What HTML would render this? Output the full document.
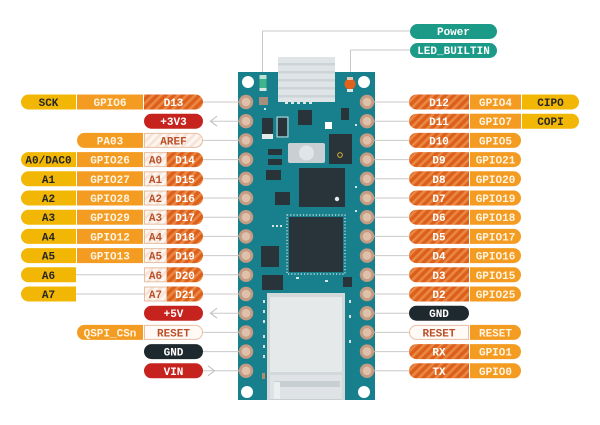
<!DOCTYPE html>
<html><head><meta charset="utf-8"><style>
html,body{margin:0;padding:0;background:#fff;}
svg{display:block;}
text{font-family:"Liberation Mono",monospace;font-weight:bold;font-size:11px;text-anchor:middle;}
.y{fill:#262626}.o{fill:#fff4e2}.w{fill:#ffffff}.r{fill:#b9502a}
</style></head><body>
<svg width="600" height="425" viewBox="0 0 600 425" xmlns="http://www.w3.org/2000/svg">
<defs>
<pattern id="h" patternUnits="userSpaceOnUse" width="6" height="6" patternTransform="rotate(45)">
<rect width="6" height="6" fill="#dc601b"/><rect width="2.6" height="6" fill="#ea8743"/>
</pattern>
<pattern id="hw" patternUnits="userSpaceOnUse" width="6" height="6" patternTransform="rotate(45)">
<rect width="6" height="6" fill="#fdf5ef"/><rect width="2.6" height="6" fill="#f6e3d6"/>
</pattern>
<path id="LY" d="M28.5,-7.5H76V7.5H28.5A7.5,7.5 0 0 1 28.5,-7.5Z"/>
<rect id="LG" x="77" y="-7.5" width="66" height="15"/>
<path id="LD" d="M144,-7.5H195.5A7.5,7.5 0 0 1 195.5,7.5H144Z"/>
<path id="LD2" d="M167,-7.5H195.5A7.5,7.5 0 0 1 195.5,7.5H167Z"/>
<rect id="LA" x="144.5" y="-7" width="22" height="14"/>
<rect id="LB" x="144" y="-7.5" width="59" height="15" rx="7.5"/>
<path id="LP" d="M84.5,-7.5H143V7.5H84.5A7.5,7.5 0 0 1 84.5,-7.5Z"/>
<path id="LW" d="M144.5,-7H195.5A7,7 0 0 1 195.5,7H144.5Z"/>
<path id="RD" d="M416.5,-7.5H469V7.5H416.5A7.5,7.5 0 0 1 416.5,-7.5Z"/>
<path id="RW" d="M416.5,-7H468.5V7H416.5A7,7 0 0 1 416.5,-7Z"/>
<rect id="RG" x="470" y="-7.5" width="51" height="15"/>
<path id="RGR" d="M470,-7.5H513.5A7.5,7.5 0 0 1 513.5,7.5H470Z"/>
<path id="RY" d="M522,-7.5H571.5A7.5,7.5 0 0 1 571.5,7.5H522Z"/>
<rect id="RB" x="409" y="-7.5" width="60" height="15" rx="7.5"/>
<g id="padL"><circle cx="246" cy="0" r="7.2" fill="#c59b83"/><circle cx="246" cy="0" r="4.3" fill="#dfc1ab"/></g>
<g id="padR"><circle cx="367" cy="0" r="7.2" fill="#c59b83"/><circle cx="367" cy="0" r="4.3" fill="#dfc1ab"/></g>
</defs>

<!-- connector lines -->
<g stroke="#c9c9c9" stroke-width="1" fill="none">
<polyline points="410,31 262.5,31 262.5,74"/>
<polyline points="410,50 350.5,50 350.5,78"/>
</g>

<!-- top labels -->
<rect x="410" y="24" width="87" height="15" rx="7.5" fill="#1a9a87"/>
<text x="453.5" y="35" class="w">Power</text>
<rect x="410" y="43" width="87" height="15" rx="7.5" fill="#1a9a87"/>
<text x="453.5" y="54" class="w">LED_BUILTIN</text>

<!-- heatsink -->
<rect x="278" y="57" width="57" height="45" fill="#dfe4e6"/>
<g fill="#cdd4d7"><rect x="278" y="63" width="57" height="2.5"/><rect x="278" y="71" width="57" height="2.5"/><rect x="278" y="79" width="57" height="2.5"/><rect x="278" y="87" width="57" height="2.5"/><rect x="278" y="95" width="57" height="2.5"/></g>

<!-- board -->
<path d="M238,72H278V102H335V72H375V400H238Z" fill="#18808d"/>
<!-- holes -->
<g fill="#fff"><circle cx="248" cy="82" r="6"/><circle cx="364" cy="82" r="6"/><circle cx="247" cy="392" r="6"/><circle cx="364" cy="392" r="6"/></g>
<!-- LEDs -->
<rect x="259.5" y="75" width="7" height="14" rx="2" fill="#3fb38a"/>
<rect x="259.5" y="75" width="7" height="4" fill="#b9e3d3"/>
<rect x="259.5" y="88" width="7" height="3" fill="#d7e8e4"/>
<circle cx="350" cy="84" r="5.5" fill="#e2621c"/>
<rect x="347" y="77" width="6" height="3" fill="#e9c6b0"/>
<rect x="347" y="89" width="6" height="3" fill="#d7e8e4"/>
<!-- small parts -->
<rect x="259" y="97" width="9" height="8" fill="#a88f7d"/>
<g fill="#d8e6e8"><rect x="285" y="101" width="3" height="3"/><rect x="291" y="101" width="3" height="3"/><rect x="297" y="101" width="3" height="3"/><rect x="303" y="101" width="3" height="3"/><rect x="309" y="101" width="3" height="3"/></g>
<g fill="#28333a">
<rect x="262" y="118" width="11" height="16"/>
<rect x="278" y="118" width="9" height="18"/>
<rect x="298" y="110" width="14" height="15"/>
<rect x="341" y="108" width="8" height="12"/>
<rect x="329" y="134" width="23" height="30"/>
<rect x="299" y="168" width="46" height="39"/>
<rect x="266" y="170" width="15" height="10"/>
<rect x="275" y="192" width="15" height="13"/>
<rect x="289" y="217" width="54" height="55"/>
<rect x="261" y="246" width="18" height="21"/>
<rect x="262" y="275" width="21" height="15"/>
<rect x="343" y="277" width="9" height="10"/>
<rect x="268" y="149" width="14" height="6"/>
<rect x="268" y="159" width="14" height="6"/>
</g>
<rect x="262" y="134" width="11" height="5" fill="#e4e9ea"/>
<rect x="277" y="117" width="11" height="20" fill="none" stroke="#c9d3d5" stroke-width="1"/>
<rect x="325" y="122" width="7" height="7" fill="#ffffff"/>
<circle cx="340" cy="155" r="2.3" fill="none" stroke="#e5c23a" stroke-width="0.9"/>
<circle cx="337" cy="199" r="2.2" fill="#e8ecee"/>
<!-- button -->
<rect x="288" y="143" width="37" height="20" rx="2" fill="#c9d0d3"/>
<circle cx="306.5" cy="153" r="7.5" fill="#e0e5e7"/>
<!-- chip pins dotted -->
<rect x="287" y="215" width="58" height="59" fill="none" stroke="#e0e7e8" stroke-width="1.2" stroke-dasharray="1.2,2"/>
<!-- module -->
<rect x="267" y="293" width="78" height="107" fill="#d3d9db"/>
<rect x="270" y="297" width="72" height="75" fill="#e6e9ea"/>
<rect x="270" y="375" width="72" height="25" fill="#dfe3e5"/>
<rect x="274" y="381" width="66" height="6" fill="#c8cfd2"/>
<rect x="274" y="382" width="6" height="18" fill="#ecefef"/>
<rect x="270" y="399" width="72" height="1" fill="#c8cfd2"/>
<rect x="262" y="373" width="3" height="6" fill="#b38a6a"/>
<!-- silkscreen dots -->
<g fill="#d6e4e6">
<rect x="264" y="108" width="2" height="2"/><rect x="355" y="124" width="2" height="2"/><rect x="355" y="186" width="2" height="2"/><rect x="355" y="210" width="2" height="2"/><rect x="263" y="300" width="2" height="3"/><rect x="263" y="310" width="2" height="3"/><rect x="263" y="320" width="2" height="3"/><rect x="263" y="335" width="2" height="3"/><rect x="263" y="345" width="2" height="3"/><rect x="263" y="355" width="2" height="3"/><rect x="349" y="300" width="2" height="3"/><rect x="349" y="315" width="2" height="3"/><rect x="349" y="340" width="2" height="3"/>
<rect x="272" y="225" width="2" height="2"/><rect x="276" y="225" width="2" height="2"/><rect x="280" y="225" width="2" height="2"/><rect x="296" y="277" width="3" height="2"/><rect x="325" y="280" width="3" height="2"/>
</g>

<!-- left rows -->
<g stroke="#c9c9c9" stroke-width="1">
<line x1="203" y1="102" x2="242" y2="102"/>
<line x1="210" y1="121.2" x2="242" y2="121.2"/>
<line x1="203" y1="140.4" x2="242" y2="140.4"/>
<line x1="203" y1="159.6" x2="242" y2="159.6"/>
<line x1="203" y1="178.8" x2="242" y2="178.8"/>
<line x1="203" y1="198" x2="242" y2="198"/>
<line x1="203" y1="217.2" x2="242" y2="217.2"/>
<line x1="203" y1="236.4" x2="242" y2="236.4"/>
<line x1="203" y1="255.6" x2="242" y2="255.6"/>
<line x1="203" y1="274.8" x2="242" y2="274.8"/>
<line x1="76" y1="274.8" x2="144" y2="274.8"/>
<line x1="203" y1="294" x2="242" y2="294"/>
<line x1="76" y1="294" x2="144" y2="294"/>
<line x1="210" y1="313.2" x2="242" y2="313.2"/>
<line x1="203" y1="332.4" x2="242" y2="332.4"/>
<line x1="203" y1="351.6" x2="242" y2="351.6"/>
<line x1="203" y1="370.8" x2="242" y2="370.8"/>
</g>
<g stroke="#c4c4c4" stroke-width="1.2" fill="none">
<polyline points="217,116.2 210.5,121.2 217,126.2"/>
<polyline points="217,308.2 210.5,313.2 217,318.2"/>
<polyline points="208,365.8 214.5,370.8 208,375.8"/>
</g>
<g stroke="#c9c9c9" stroke-width="1">
<line x1="371" y1="102" x2="409" y2="102"/><line x1="371" y1="121.2" x2="409" y2="121.2"/><line x1="371" y1="140.4" x2="409" y2="140.4"/><line x1="371" y1="159.6" x2="409" y2="159.6"/><line x1="371" y1="178.8" x2="409" y2="178.8"/><line x1="371" y1="198" x2="409" y2="198"/><line x1="371" y1="217.2" x2="409" y2="217.2"/><line x1="371" y1="236.4" x2="409" y2="236.4"/><line x1="371" y1="255.6" x2="409" y2="255.6"/><line x1="371" y1="274.8" x2="409" y2="274.8"/><line x1="371" y1="294" x2="409" y2="294"/><line x1="371" y1="313.2" x2="409" y2="313.2"/><line x1="371" y1="332.4" x2="409" y2="332.4"/><line x1="371" y1="351.6" x2="409" y2="351.6"/><line x1="371" y1="370.8" x2="409" y2="370.8"/>
</g>

<!-- pads -->
<use href="#padL" y="102"/><use href="#padL" y="121.2"/><use href="#padL" y="140.4"/><use href="#padL" y="159.6"/><use href="#padL" y="178.8"/><use href="#padL" y="198"/><use href="#padL" y="217.2"/><use href="#padL" y="236.4"/><use href="#padL" y="255.6"/><use href="#padL" y="274.8"/><use href="#padL" y="294"/><use href="#padL" y="313.2"/><use href="#padL" y="332.4"/><use href="#padL" y="351.6"/><use href="#padL" y="370.8"/>
<use href="#padR" y="102"/><use href="#padR" y="121.2"/><use href="#padR" y="140.4"/><use href="#padR" y="159.6"/><use href="#padR" y="178.8"/><use href="#padR" y="198"/><use href="#padR" y="217.2"/><use href="#padR" y="236.4"/><use href="#padR" y="255.6"/><use href="#padR" y="274.8"/><use href="#padR" y="294"/><use href="#padR" y="313.2"/><use href="#padR" y="332.4"/><use href="#padR" y="351.6"/><use href="#padR" y="370.8"/>

<!-- LEFT LABELS -->
<g transform="translate(0,102)">
<use href="#LY" fill="#f2b705"/><text x="48.5" y="4" class="y">SCK</text>
<use href="#LG" fill="#f39c21"/><text x="110" y="4" class="o">GPIO6</text>
<use href="#LD" fill="url(#h)"/><text x="173.5" y="4" class="w">D13</text>
</g>
<g transform="translate(0,121.2)">
<use href="#LB" fill="#c6231f"/><text x="173.5" y="4" class="w">+3V3</text>
</g>
<g transform="translate(0,140.4)">
<use href="#LP" fill="#f39c21"/><text x="110" y="4" class="o">PA03</text>
<use href="#LW" fill="url(#hw)" stroke="#e7bfa6" stroke-width="1"/><text x="173.5" y="4" class="r">AREF</text>
</g>
<g transform="translate(0,159.6)">
<use href="#LY" fill="#f2b705"/><text x="48.5" y="4" class="y">A0/DAC0</text>
<use href="#LG" fill="#f39c21"/><text x="110" y="4" class="o">GPIO26</text>
<use href="#LA" fill="url(#hw)" stroke="#e7bfa6" stroke-width="1"/><text x="155.5" y="4" class="r">A0</text>
<use href="#LD2" fill="url(#h)"/><text x="185" y="4" class="w">D14</text>
</g>
<g transform="translate(0,178.8)">
<use href="#LY" fill="#f2b705"/><text x="48.5" y="4" class="y">A1</text>
<use href="#LG" fill="#f39c21"/><text x="110" y="4" class="o">GPIO27</text>
<use href="#LA" fill="url(#hw)" stroke="#e7bfa6" stroke-width="1"/><text x="155.5" y="4" class="r">A1</text>
<use href="#LD2" fill="url(#h)"/><text x="185" y="4" class="w">D15</text>
</g>
<g transform="translate(0,198)">
<use href="#LY" fill="#f2b705"/><text x="48.5" y="4" class="y">A2</text>
<use href="#LG" fill="#f39c21"/><text x="110" y="4" class="o">GPIO28</text>
<use href="#LA" fill="url(#hw)" stroke="#e7bfa6" stroke-width="1"/><text x="155.5" y="4" class="r">A2</text>
<use href="#LD2" fill="url(#h)"/><text x="185" y="4" class="w">D16</text>
</g>
<g transform="translate(0,217.2)">
<use href="#LY" fill="#f2b705"/><text x="48.5" y="4" class="y">A3</text>
<use href="#LG" fill="#f39c21"/><text x="110" y="4" class="o">GPIO29</text>
<use href="#LA" fill="url(#hw)" stroke="#e7bfa6" stroke-width="1"/><text x="155.5" y="4" class="r">A3</text>
<use href="#LD2" fill="url(#h)"/><text x="185" y="4" class="w">D17</text>
</g>
<g transform="translate(0,236.4)">
<use href="#LY" fill="#f2b705"/><text x="48.5" y="4" class="y">A4</text>
<use href="#LG" fill="#f39c21"/><text x="110" y="4" class="o">GPIO12</text>
<use href="#LA" fill="url(#hw)" stroke="#e7bfa6" stroke-width="1"/><text x="155.5" y="4" class="r">A4</text>
<use href="#LD2" fill="url(#h)"/><text x="185" y="4" class="w">D18</text>
</g>
<g transform="translate(0,255.6)">
<use href="#LY" fill="#f2b705"/><text x="48.5" y="4" class="y">A5</text>
<use href="#LG" fill="#f39c21"/><text x="110" y="4" class="o">GPIO13</text>
<use href="#LA" fill="url(#hw)" stroke="#e7bfa6" stroke-width="1"/><text x="155.5" y="4" class="r">A5</text>
<use href="#LD2" fill="url(#h)"/><text x="185" y="4" class="w">D19</text>
</g>
<g transform="translate(0,274.8)">
<use href="#LY" fill="#f2b705"/><text x="48.5" y="4" class="y">A6</text>
<use href="#LA" fill="url(#hw)" stroke="#e7bfa6" stroke-width="1"/><text x="155.5" y="4" class="r">A6</text>
<use href="#LD2" fill="url(#h)"/><text x="185" y="4" class="w">D20</text>
</g>
<g transform="translate(0,294)">
<use href="#LY" fill="#f2b705"/><text x="48.5" y="4" class="y">A7</text>
<use href="#LA" fill="url(#hw)" stroke="#e7bfa6" stroke-width="1"/><text x="155.5" y="4" class="r">A7</text>
<use href="#LD2" fill="url(#h)"/><text x="185" y="4" class="w">D21</text>
</g>
<g transform="translate(0,313.2)">
<use href="#LB" fill="#c6231f"/><text x="173.5" y="4" class="w">+5V</text>
</g>
<g transform="translate(0,332.4)">
<use href="#LP" fill="#f39c21"/><text x="110" y="4" class="o">QSPI_CSn</text>
<use href="#LW" fill="#fffaf6" stroke="#e7bfa6" stroke-width="1"/><text x="173.5" y="4" class="r">RESET</text>
</g>
<g transform="translate(0,351.6)">
<use href="#LB" fill="#1e292f"/><text x="173.5" y="4" class="w">GND</text>
</g>
<g transform="translate(0,370.8)">
<use href="#LB" fill="#c6231f"/><text x="173.5" y="4" class="w">VIN</text>
</g>

<!-- RIGHT LABELS -->
<g transform="translate(0,102)">
<use href="#RD" fill="url(#h)"/><text x="439" y="4" class="w">D12</text>
<use href="#RG" fill="#f39c21"/><text x="495.5" y="4" class="o">GPIO4</text>
<use href="#RY" fill="#f2b705"/><text x="550.5" y="4" class="y">CIPO</text>
</g>
<g transform="translate(0,121.2)">
<use href="#RD" fill="url(#h)"/><text x="439" y="4" class="w">D11</text>
<use href="#RG" fill="#f39c21"/><text x="495.5" y="4" class="o">GPIO7</text>
<use href="#RY" fill="#f2b705"/><text x="550.5" y="4" class="y">COPI</text>
</g>
<g transform="translate(0,140.4)">
<use href="#RD" fill="url(#h)"/><text x="439" y="4" class="w">D10</text>
<use href="#RGR" fill="#f39c21"/><text x="495.5" y="4" class="o">GPIO5</text>
</g>
<g transform="translate(0,159.6)">
<use href="#RD" fill="url(#h)"/><text x="439" y="4" class="w">D9</text>
<use href="#RGR" fill="#f39c21"/><text x="495.5" y="4" class="o">GPIO21</text>
</g>
<g transform="translate(0,178.8)">
<use href="#RD" fill="url(#h)"/><text x="439" y="4" class="w">D8</text>
<use href="#RGR" fill="#f39c21"/><text x="495.5" y="4" class="o">GPIO20</text>
</g>
<g transform="translate(0,198)">
<use href="#RD" fill="url(#h)"/><text x="439" y="4" class="w">D7</text>
<use href="#RGR" fill="#f39c21"/><text x="495.5" y="4" class="o">GPIO19</text>
</g>
<g transform="translate(0,217.2)">
<use href="#RD" fill="url(#h)"/><text x="439" y="4" class="w">D6</text>
<use href="#RGR" fill="#f39c21"/><text x="495.5" y="4" class="o">GPIO18</text>
</g>
<g transform="translate(0,236.4)">
<use href="#RD" fill="url(#h)"/><text x="439" y="4" class="w">D5</text>
<use href="#RGR" fill="#f39c21"/><text x="495.5" y="4" class="o">GPIO17</text>
</g>
<g transform="translate(0,255.6)">
<use href="#RD" fill="url(#h)"/><text x="439" y="4" class="w">D4</text>
<use href="#RGR" fill="#f39c21"/><text x="495.5" y="4" class="o">GPIO16</text>
</g>
<g transform="translate(0,274.8)">
<use href="#RD" fill="url(#h)"/><text x="439" y="4" class="w">D3</text>
<use href="#RGR" fill="#f39c21"/><text x="495.5" y="4" class="o">GPIO15</text>
</g>
<g transform="translate(0,294)">
<use href="#RD" fill="url(#h)"/><text x="439" y="4" class="w">D2</text>
<use href="#RGR" fill="#f39c21"/><text x="495.5" y="4" class="o">GPIO25</text>
</g>
<g transform="translate(0,313.2)">
<use href="#RB" fill="#1e292f"/><text x="439" y="4" class="w">GND</text>
</g>
<g transform="translate(0,332.4)">
<use href="#RW" fill="#fffaf6" stroke="#e7bfa6" stroke-width="1"/><text x="439" y="4" class="r">RESET</text>
<use href="#RGR" fill="#f39c21"/><text x="495.5" y="4" class="o">RESET</text>
</g>
<g transform="translate(0,351.6)">
<use href="#RD" fill="url(#h)"/><text x="439" y="4" class="w">RX</text>
<use href="#RGR" fill="#f39c21"/><text x="495.5" y="4" class="o">GPIO1</text>
</g>
<g transform="translate(0,370.8)">
<use href="#RD" fill="url(#h)"/><text x="439" y="4" class="w">TX</text>
<use href="#RGR" fill="#f39c21"/><text x="495.5" y="4" class="o">GPIO0</text>
</g>
</svg>
</body></html>
